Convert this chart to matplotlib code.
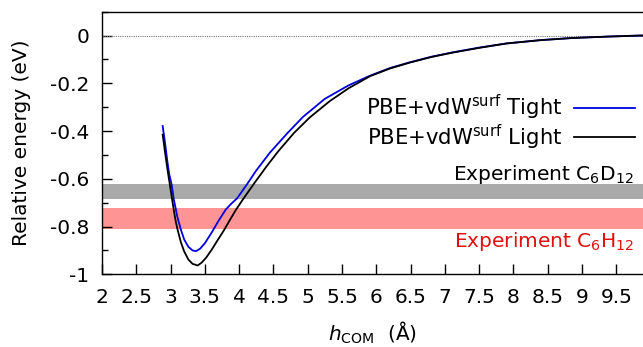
import numpy as np
import matplotlib
matplotlib.use('Agg')
import matplotlib.pyplot as plt
from matplotlib.ticker import MultipleLocator

# PBE+vdW^surf, tight basis (blue)
tight_h = [2.885, 2.92, 2.95, 2.98, 3.015, 3.05, 3.10, 3.147, 3.20, 3.26, 3.32, 3.37,
           3.43, 3.50, 3.60, 3.70, 3.807, 3.89, 3.97, 4.11, 4.25, 4.45, 4.70, 4.93,
           5.25, 5.60, 5.91, 6.20, 6.49, 6.80, 7.12, 7.51, 7.90, 8.40, 8.87, 9.40, 9.84, 9.95]
tight_e = [-0.379, -0.45, -0.52, -0.58, -0.623, -0.69, -0.76, -0.81, -0.855, -0.885, -0.900, -0.903,
           -0.893, -0.870, -0.825, -0.776, -0.728, -0.703, -0.682, -0.625, -0.565, -0.490, -0.410, -0.341,
           -0.265, -0.208, -0.168, -0.136, -0.112, -0.089, -0.070, -0.050, -0.033, -0.019, -0.010, -0.004, 0.0, 0.0]

# PBE+vdW^surf, light basis (black)
light_h = [2.885, 2.92, 2.96, 2.99, 3.03, 3.07, 3.10, 3.15, 3.20, 3.26, 3.32, 3.395,
           3.45, 3.52, 3.60, 3.68, 3.78, 3.86, 3.953, 4.07, 4.23, 4.40, 4.57, 4.80, 5.03,
           5.32, 5.60, 5.91, 6.20, 6.49, 6.80, 7.12, 7.51, 7.90, 8.40, 8.87, 9.40, 9.84, 9.95]
light_e = [-0.415, -0.49, -0.57, -0.625, -0.70, -0.77, -0.81, -0.865, -0.905, -0.938, -0.956, -0.963,
           -0.952, -0.930, -0.897, -0.860, -0.815, -0.775, -0.730, -0.680, -0.615, -0.548, -0.485, -0.408, -0.343,
           -0.275, -0.220, -0.170, -0.138, -0.113, -0.090, -0.071, -0.051, -0.033, -0.019, -0.010, -0.004, 0.0, 0.0]

# experimental adsorption energy ranges (eV)
exp_c6d12 = (-0.684, -0.623)
exp_c6h12 = (-0.811, -0.723)

plt.rcParams['font.family'] = 'DejaVu Sans'
plt.rcParams['font.size'] = 14.5

fig = plt.figure(figsize=(6.43, 3.47), dpi=100)
ax = fig.add_axes([0.1586, 0.2095, 0.8414, 0.7568])

ax.axhspan(exp_c6d12[0], exp_c6d12[1], color='#aaaaaa', lw=0, zorder=1)
ax.axhspan(exp_c6h12[0], exp_c6h12[1], color='#ff9494', lw=0, zorder=1)
ax.axhline(0, color='#777777', ls=(0, (1, 1)), lw=0.8, zorder=2)

ax.plot(tight_h, tight_e, color='#0000e0', lw=1.3, zorder=3, label='PBE+vdW$^{\\rm surf}$ Tight')
ax.plot(light_h, light_e, color='black', lw=1.3, zorder=4, label='PBE+vdW$^{\\rm surf}$ Light')

ax.text(0.983, -0.603, 'Experiment C$_6$D$_{12}$', transform=ax.get_yaxis_transform(),
        ha='right', va='baseline', color='black')
ax.text(0.983, -0.885, 'Experiment C$_6$H$_{12}$', transform=ax.get_yaxis_transform(),
        ha='right', va='baseline', color='#e01010')

ax.set_xlim(2, 9.89)
ax.set_ylim(-1, 0.1)
ax.yaxis.set_minor_locator(MultipleLocator(0.1))
xt = np.arange(2, 10, 0.5)
ax.set_xticks(xt)
ax.set_xticklabels(['%g' % v for v in xt])
ax.set_yticks([-1, -0.8, -0.6, -0.4, -0.2, 0])
ax.set_yticklabels(['-1', '-0.8', '-0.6', '-0.4', '-0.2', '0'])
ax.tick_params(which='major', direction='in', length=7, width=1, pad=9)
ax.tick_params(which='minor', direction='in', length=4, width=1)
ax.tick_params(axis='x', pad=10)
ax.spines['right'].set_visible(False)
for s in ['left', 'bottom', 'top']:
    ax.spines[s].set_linewidth(1.0)

ax.set_xlabel('$h_{\\rm COM}$  (Å)', labelpad=9)
ax.set_ylabel('Relative energy (eV)', labelpad=14)

ax.legend(loc='upper right', bbox_to_anchor=(0.985, 0.69), frameon=False, markerfirst=False,
          borderpad=0, borderaxespad=0, handlelength=2.9, handletextpad=0.55, labelspacing=0.0,
          fontsize=15.2)

fig.savefig('out.png', dpi=100)
